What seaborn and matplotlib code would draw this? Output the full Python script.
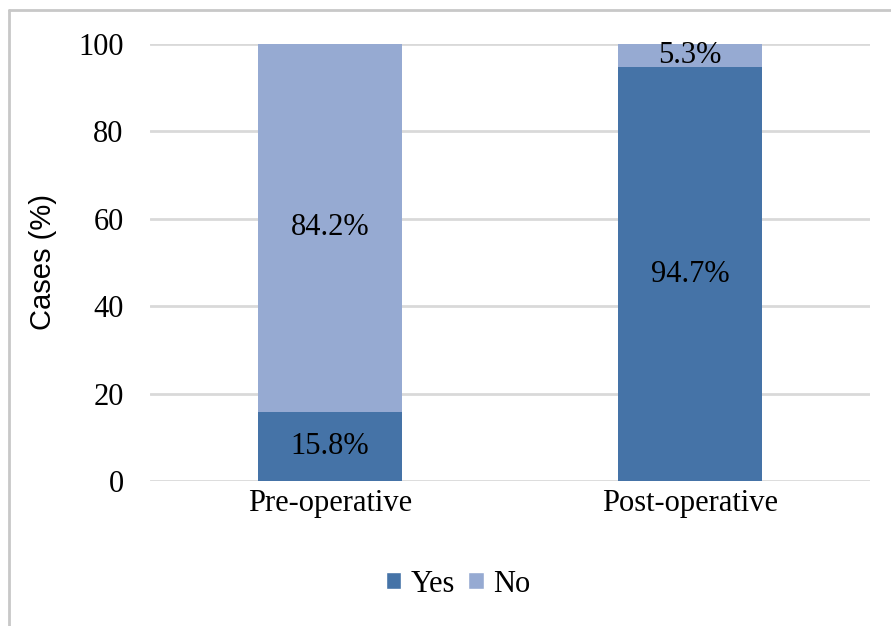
import matplotlib
matplotlib.use("Agg")
import matplotlib.pyplot as plt
import seaborn as sns
import pandas as pd
from matplotlib.patches import Patch
from matplotlib.lines import Line2D

# data
categories = ["Pre-operative", "Post-operative"]
yes_vals = [15.8, 94.7]
no_vals = [84.2, 5.3]
yticks = [0, 20, 40, 60, 80, 100]

yes_color = "#4573a7"
no_color = "#96aad2"

sns.set_theme(style="white")
plt.rcParams["font.family"] = ["Liberation Serif", "DejaVu Serif"]
plt.rcParams["text.color"] = "black"
plt.rcParams["xtick.color"] = "black"
plt.rcParams["ytick.color"] = "black"
plt.rcParams["axes.labelcolor"] = "black"

df = pd.DataFrame({"cat": categories, "yes": yes_vals, "no": no_vals})
df["total"] = df["yes"] + df["no"]

fig = plt.figure(figsize=(8.91, 6.26), dpi=100)
ax = fig.add_axes([150 / 891, 1 - 481 / 626, 720 / 891, 437 / 626])

# stacked: total in "No" colour, then "Yes" on top of it
sns.barplot(data=df, x="cat", y="total", color=no_color, width=0.4,
            saturation=1, linewidth=0, ax=ax, zorder=3)
sns.barplot(data=df, x="cat", y="yes", color=yes_color, width=0.4,
            saturation=1, linewidth=0, ax=ax, zorder=4)

fs = 22
for i, (y, n) in enumerate(zip(yes_vals, no_vals)):
    ax.text(i, y / 2, f"{y}%", ha="center", va="center", fontsize=fs, zorder=5)
    ax.text(i, y + n / 2, f"{n}%", ha="center", va="center", fontsize=fs, zorder=5)

ax.set_ylim(0, 100)
ax.set_xlim(-0.5, 1.5)
ax.set_yticks(yticks)
ax.yaxis.grid(True, color="#d9d9d9", linewidth=2)
ax.set_axisbelow(True)
for s in ax.spines.values():
    s.set_visible(False)
ax.tick_params(axis="both", length=0, labelsize=fs)
ax.tick_params(axis="y", pad=19)
ax.tick_params(axis="x", pad=6)
ax.set_xlabel("")
ax.set_ylabel("Cases (%)", fontsize=21, family=["Liberation Sans", "DejaVu Sans"], labelpad=15)

handles = [Patch(facecolor=yes_color, label="Yes"), Patch(facecolor=no_color, label="No")]
fig.legend(handles=handles, loc="center", bbox_to_anchor=(458 / 891, 1 - 584 / 626),
           ncol=2, frameon=False, fontsize=fs, handlelength=0.5, handleheight=0.5,
           handletextpad=0.3, columnspacing=0.45)

# outer frame (top and left edges visible)
fig.add_artist(Line2D([9 / 891, 9 / 891], [0, 1 - 10 / 626], transform=fig.transFigure,
                      color="#c8c8c8", linewidth=2))
fig.add_artist(Line2D([9 / 891, 1], [1 - 10 / 626, 1 - 10 / 626], transform=fig.transFigure,
                      color="#c8c8c8", linewidth=2))

fig.savefig("out.png", dpi=100)
